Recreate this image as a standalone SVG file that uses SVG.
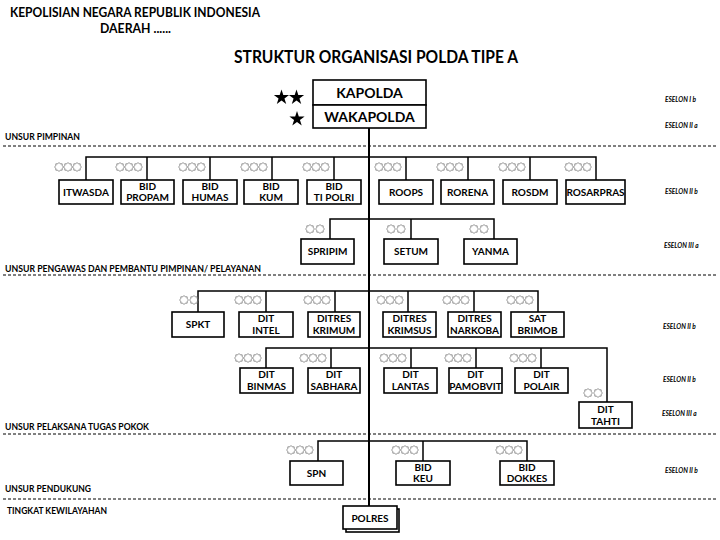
<svg xmlns="http://www.w3.org/2000/svg" xmlns:xlink="http://www.w3.org/1999/xlink" width="720" height="540" viewBox="0 0 720 540">
<style>
text{font-family:"Lato","Open Sans","Liberation Sans",sans-serif;font-weight:bold;fill:#000}
.box{fill:#fff;stroke:#000;stroke-width:1.6}
.bt{font-size:10px;text-anchor:middle}
.big{font-size:14px;text-anchor:middle}
.sec{font-size:9.5px}
.es{font-size:6.5px;font-style:italic}
.ln{fill:none;stroke:#000;stroke-width:1.5}
.main{fill:none;stroke:#000;stroke-width:2}
.dash{fill:none;stroke:#000;stroke-width:1;stroke-dasharray:3 2}
.st{fill:none;stroke:#777;stroke-width:0.8}
</style>
<defs>
<polygon id="s" class="st" points="0,-4.5 1.3,-3.14 3.18,-3.18 3.14,-1.3 4.5,0 3.14,1.3 3.18,3.18 1.3,3.14 0,4.5 -1.3,3.14 -3.18,3.18 -3.14,1.3 -4.5,0 -3.14,-1.3 -3.18,-3.18 -1.3,-3.14"/>
<g id="s3"><use xlink:href="#s" x="-27"/><use xlink:href="#s" x="-18"/><use xlink:href="#s" x="-9"/></g>
<g id="s2"><use xlink:href="#s" x="-20"/><use xlink:href="#s" x="-10"/></g>
<polygon id="bs" points="0,-8 1.82,-2.51 7.61,-2.47 2.95,0.96 4.7,6.47 0,3.1 -4.7,6.47 -2.95,0.96 -7.61,-2.47 -1.82,-2.51" fill="#000"/>
</defs>
<rect width="720" height="540" fill="#fff"/>

<g id="header">
<text x="10" y="17" font-size="13" textLength="250" lengthAdjust="spacingAndGlyphs">KEPOLISIAN NEGARA REPUBLIK INDONESIA</text>
<text x="100" y="33" font-size="13" textLength="71" lengthAdjust="spacingAndGlyphs">DAERAH ......</text>
<text x="234" y="63" font-size="16.5" textLength="284" lengthAdjust="spacingAndGlyphs">STRUKTUR ORGANISASI POLDA TIPE A</text>
</g>

<g id="sections">
<line class="dash" x1="3" y1="146" x2="718" y2="146"/>
<line class="dash" x1="3" y1="275" x2="718" y2="275"/>
<line class="dash" x1="3" y1="434" x2="718" y2="434"/>
<line class="dash" x1="3" y1="499" x2="718" y2="499"/>
<text class="sec" x="5" y="140" textLength="75" lengthAdjust="spacingAndGlyphs">UNSUR PIMPINAN</text>
<text class="sec" x="5" y="272" textLength="256" lengthAdjust="spacingAndGlyphs">UNSUR PENGAWAS DAN PEMBANTU PIMPINAN/ PELAYANAN</text>
<text class="sec" x="5" y="430" textLength="144" lengthAdjust="spacingAndGlyphs">UNSUR PELAKSANA TUGAS POKOK</text>
<text class="sec" x="5" y="492" textLength="86" lengthAdjust="spacingAndGlyphs">UNSUR PENDUKUNG</text>
<text class="sec" x="7" y="514" textLength="100" lengthAdjust="spacingAndGlyphs">TINGKAT KEWILAYAHAN</text>
</g>

<g id="eselon">
<text class="es" x="665" y="102">ESELON I b</text>
<text class="es" x="665" y="128">ESELON II a</text>
<text class="es" x="665" y="194">ESELON II b</text>
<text class="es" x="664" y="248">ESELON III a</text>
<text class="es" x="663" y="329">ESELON II b</text>
<text class="es" x="663" y="382">ESELON II b</text>
<text class="es" x="662" y="416">ESELON III a</text>
<text class="es" x="665" y="473">ESELON II b</text>
</g>

<g id="connectors">
<line class="main" x1="369" y1="128" x2="369" y2="506"/>
<path class="ln" d="M86,180V157H596V180M147,157V180M210,157V180M272,157V180M334,157V180M406,157V180M468,157V180M530,157V180"/>
<path class="ln" d="M330,239V219H494V239M411,219V239"/>
<path class="ln" d="M198,312V291H538V312M266,291V312M335,291V312M408,291V312M474,291V312"/>
<path class="ln" d="M266,368V348H607V402M331,348V368M411,348V368M476,348V368M541,348V368"/>
<path class="ln" d="M318,461V441H527V461M423,441V461"/>
</g>

<g id="stars">
<use xlink:href="#bs" x="281.5" y="97.5"/>
<use xlink:href="#bs" x="296.5" y="97.5"/>
<use xlink:href="#bs" x="297" y="119"/>
<use xlink:href="#s3" x="86" y="167"/>
<use xlink:href="#s3" x="147" y="167"/>
<use xlink:href="#s3" x="210" y="167"/>
<use xlink:href="#s3" x="272" y="167"/>
<use xlink:href="#s3" x="334" y="167"/>
<use xlink:href="#s3" x="406" y="167"/>
<use xlink:href="#s3" x="468" y="167"/>
<use xlink:href="#s3" x="530" y="167"/>
<use xlink:href="#s3" x="596" y="167"/>
<use xlink:href="#s2" x="330" y="229"/>
<use xlink:href="#s2" x="411" y="229"/>
<use xlink:href="#s2" x="494" y="229"/>
<use xlink:href="#s2" x="204" y="300"/>
<use xlink:href="#s3" x="266" y="300"/>
<use xlink:href="#s3" x="335" y="300"/>
<use xlink:href="#s3" x="408" y="300"/>
<use xlink:href="#s3" x="474" y="300"/>
<use xlink:href="#s3" x="538" y="300"/>
<use xlink:href="#s3" x="266" y="358"/>
<use xlink:href="#s3" x="331" y="358"/>
<use xlink:href="#s3" x="411" y="358"/>
<use xlink:href="#s3" x="476" y="358"/>
<use xlink:href="#s3" x="541" y="358"/>
<use xlink:href="#s2" x="608" y="393"/>
<use xlink:href="#s3" x="318" y="450"/>
<use xlink:href="#s3" x="423" y="450"/>
<use xlink:href="#s3" x="527" y="450"/>
</g>

<g id="kapolda"><rect class="box" x="313" y="80" width="113" height="25" stroke-width="2"/><text class="big" x="369.5" y="98">KAPOLDA</text></g>
<g id="wakapolda"><rect class="box" x="313" y="105" width="113" height="23" stroke-width="2"/><text class="big" x="369.5" y="122">WAKAPOLDA</text></g>

<g id="itwasda"><rect class="box" x="59" y="180" width="54" height="24"/><text class="bt" x="86" y="196">ITWASDA</text></g>
<g id="bid-propam"><rect class="box" x="121" y="180" width="53" height="24"/><text class="bt" x="147.5" y="190">BID</text><text class="bt" x="147.5" y="201">PROPAM</text></g>
<g id="bid-humas"><rect class="box" x="183" y="180" width="54" height="24"/><text class="bt" x="210" y="190">BID</text><text class="bt" x="210" y="201">HUMAS</text></g>
<g id="bid-kum"><rect class="box" x="244" y="180" width="54" height="24"/><text class="bt" x="271" y="190">BID</text><text class="bt" x="271" y="201">KUM</text></g>
<g id="bid-tipolri"><rect class="box" x="307" y="180" width="54" height="24"/><text class="bt" x="334" y="190">BID</text><text class="bt" x="334" y="201">TI POLRI</text></g>
<g id="roops"><rect class="box" x="379" y="180" width="54" height="24"/><text class="bt" x="406" y="196">ROOPS</text></g>
<g id="rorena"><rect class="box" x="441" y="180" width="53" height="24"/><text class="bt" x="467.5" y="196">RORENA</text></g>
<g id="rosdm"><rect class="box" x="503" y="180" width="54" height="24"/><text class="bt" x="530" y="196">ROSDM</text></g>
<g id="rosarpras"><rect class="box" x="566" y="180" width="59" height="24"/><text class="bt" x="595.5" y="196">ROSARPRAS</text></g>

<g id="spripim"><rect class="box" x="301" y="239" width="53" height="25"/><text class="bt" x="327.5" y="255">SPRIPIM</text></g>
<g id="setum"><rect class="box" x="384" y="239" width="54" height="25"/><text class="bt" x="411" y="255">SETUM</text></g>
<g id="yanma"><rect class="box" x="464" y="239" width="53" height="25"/><text class="bt" x="490.5" y="255">YANMA</text></g>

<g id="spkt"><rect class="box" x="172" y="312" width="52" height="25"/><text class="bt" x="198" y="328">SPKT</text></g>
<g id="dit-intel"><rect class="box" x="239" y="312" width="54" height="25"/><text class="bt" x="266" y="322">DIT</text><text class="bt" x="266" y="334">INTEL</text></g>
<g id="ditres-krimum"><rect class="box" x="308" y="312" width="52" height="25"/><text class="bt" x="334" y="322">DITRES</text><text class="bt" x="334" y="334">KRIMUM</text></g>
<g id="ditres-krimsus"><rect class="box" x="383" y="312" width="53" height="25"/><text class="bt" x="409.5" y="322">DITRES</text><text class="bt" x="409.5" y="334">KRIMSUS</text></g>
<g id="ditres-narkoba"><rect class="box" x="448" y="312" width="53" height="25"/><text class="bt" x="474.5" y="322">DITRES</text><text class="bt" x="474.5" y="334">NARKOBA</text></g>
<g id="sat-brimob"><rect class="box" x="511" y="312" width="53" height="25"/><text class="bt" x="537.5" y="322">SAT</text><text class="bt" x="537.5" y="334">BRIMOB</text></g>

<g id="dit-binmas"><rect class="box" x="240" y="368" width="53" height="25"/><text class="bt" x="266.5" y="378">DIT</text><text class="bt" x="266.5" y="390">BINMAS</text></g>
<g id="dit-sabhara"><rect class="box" x="308" y="368" width="52" height="25"/><text class="bt" x="334" y="378">DIT</text><text class="bt" x="334" y="390">SABHARA</text></g>
<g id="dit-lantas"><rect class="box" x="384" y="368" width="53" height="25"/><text class="bt" x="410.5" y="378">DIT</text><text class="bt" x="410.5" y="390">LANTAS</text></g>
<g id="dit-pamobvit"><rect class="box" x="449" y="368" width="53" height="25"/><text class="bt" x="475.5" y="378">DIT</text><text class="bt" x="475.5" y="390">PAMOBVIT</text></g>
<g id="dit-polair"><rect class="box" x="515" y="368" width="53" height="25"/><text class="bt" x="541.5" y="378">DIT</text><text class="bt" x="541.5" y="390">POLAIR</text></g>
<g id="dit-tahti"><rect class="box" x="579" y="402" width="53" height="26"/><text class="bt" x="605.5" y="413">DIT</text><text class="bt" x="605.5" y="425">TAHTI</text></g>

<g id="spn"><rect class="box" x="290" y="461" width="53" height="24"/><text class="bt" x="316.5" y="477">SPN</text></g>
<g id="bid-keu"><rect class="box" x="396" y="461" width="54" height="24"/><text class="bt" x="423" y="471">BID</text><text class="bt" x="423" y="482">KEU</text></g>
<g id="bid-dokkes"><rect class="box" x="500" y="461" width="54" height="24"/><text class="bt" x="527" y="471">BID</text><text class="bt" x="527" y="482">DOKKES</text></g>

<g id="polres"><rect class="box" x="346" y="509" width="53" height="23" stroke-width="1.2"/><rect class="box" x="343" y="506" width="54" height="23" stroke-width="1.2"/><text class="bt" x="370" y="522" font-size="11.5">POLRES</text></g>
</svg>
